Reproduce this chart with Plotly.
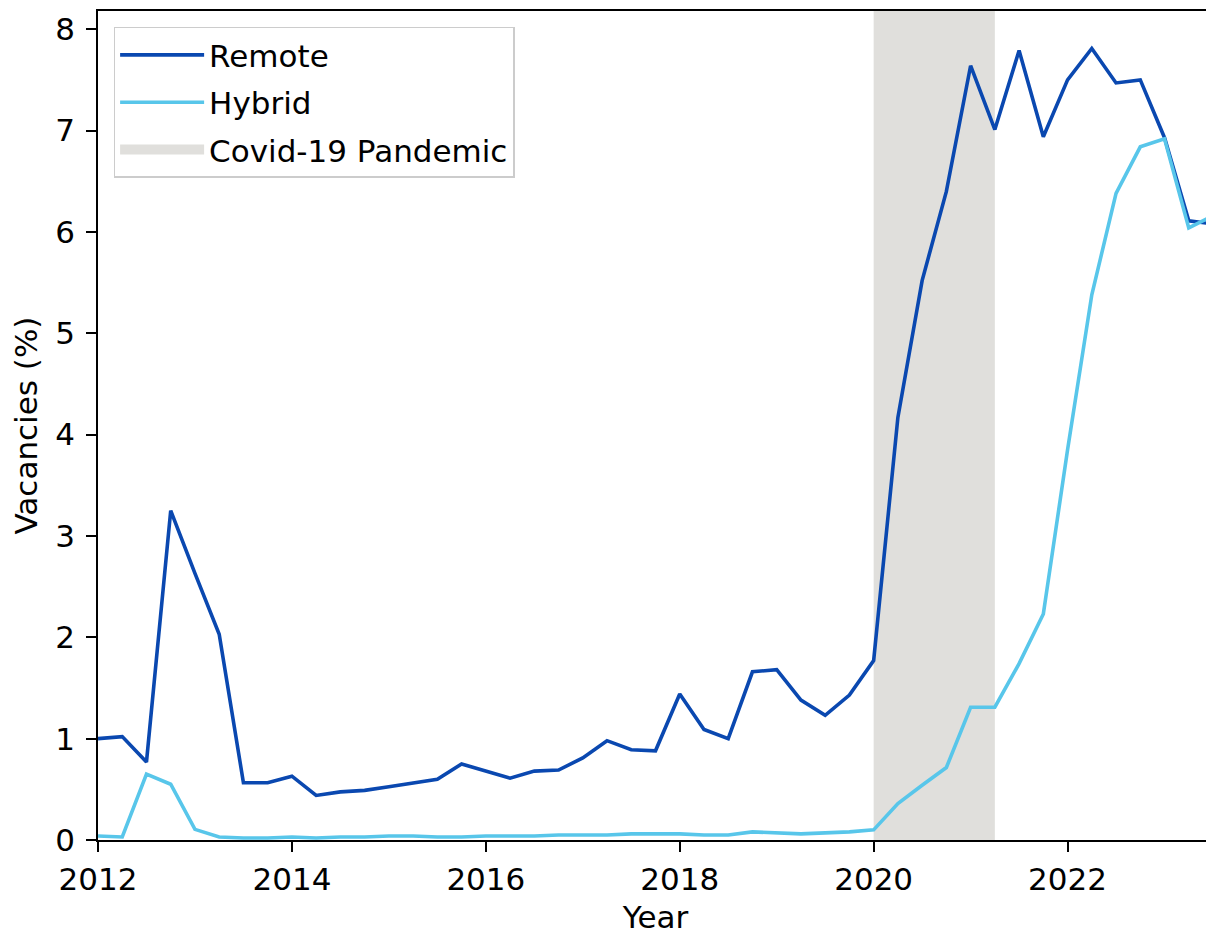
import plotly.graph_objects as go

# ---- data ----
quarters = [2012.0, 2012.25, 2012.5, 2012.75,
            2013.0, 2013.25, 2013.5, 2013.75,
            2014.0, 2014.25, 2014.5, 2014.75,
            2015.0, 2015.25, 2015.5, 2015.75,
            2016.0, 2016.25, 2016.5, 2016.75,
            2017.0, 2017.25, 2017.5, 2017.75,
            2018.0, 2018.25, 2018.5, 2018.75,
            2019.0, 2019.25, 2019.5, 2019.75,
            2020.0, 2020.25, 2020.5, 2020.75,
            2021.0, 2021.25, 2021.5, 2021.75,
            2022.0, 2022.25, 2022.5, 2022.75,
            2023.0, 2023.25, 2023.5]

remote = [1.00, 1.02, 0.77, 3.25,
          2.63, 2.03, 0.565, 0.565,
          0.63, 0.44, 0.475, 0.49,
          0.525, 0.56, 0.60, 0.75,
          0.68, 0.61, 0.68, 0.69,
          0.81, 0.98, 0.89, 0.88,
          1.44, 1.09, 1.00, 1.66,
          1.68, 1.38, 1.23, 1.43,
          1.77, 4.17, 5.52, 6.40,
          7.64, 7.01, 7.79, 6.94,
          7.50, 7.81, 7.47, 7.50,
          6.93, 6.11, 6.08]

hybrid = [0.04, 0.03, 0.65, 0.55,
          0.105, 0.03, 0.02, 0.02,
          0.03, 0.02, 0.03, 0.03,
          0.04, 0.04, 0.03, 0.03,
          0.04, 0.04, 0.04, 0.05,
          0.05, 0.05, 0.06, 0.06,
          0.06, 0.05, 0.05, 0.08,
          0.07, 0.06, 0.07, 0.08,
          0.10, 0.36, 0.54, 0.715,
          1.31, 1.31, 1.74, 2.23,
          3.85, 5.38, 6.38, 6.84,
          6.92, 6.04, 6.16]

pandemic_start = 2020.0
pandemic_end = 2021.25

x_ticks = [2012, 2014, 2016, 2018, 2020, 2022]
y_ticks = [0, 1, 2, 3, 4, 5, 6, 7, 8]

FONT = "DejaVu Sans"
FS = 31
GRAY = "#e0dfdc"

fig = go.Figure()

fig.add_vrect(x0=pandemic_start, x1=pandemic_end, fillcolor=GRAY,
              line_width=0, layer="below")

fig.add_trace(go.Scatter(x=quarters, y=remote, mode="lines", name="Remote",
                         legendgroup="a", legendrank=1,
                         line=dict(color="#0a48b0", width=3.6)))
fig.add_trace(go.Scatter(x=quarters, y=hybrid, mode="lines", name="Hybrid",
                         legendgroup="b", legendrank=2,
                         line=dict(color="#58c6ea", width=3.6)))
# legend entry for the shaded pandemic period
fig.add_trace(go.Scatter(x=[None], y=[None], mode="lines",
                         line=dict(color=GRAY, width=25), name="Covid-19 Pandemic",
                         legendgroup="c", legendrank=3))

axis_common = dict(showgrid=False, zeroline=False, showline=True,
                   linecolor="black", linewidth=1.5, mirror=True,
                   ticks="outside", ticklen=10, tickwidth=1.5, tickcolor="black",
                   automargin=False,
                   tickfont=dict(family=FONT, size=FS, color="black"))

fig.update_xaxes(range=[2012, 2023.5], tickvals=x_ticks, ticklabelstandoff=1,
                 title=dict(text="Year", font=dict(family=FONT, size=FS, color="black"),
                            standoff=10),
                 **axis_common)
fig.update_yaxes(range=[0, 8.18], tickvals=y_ticks, ticklabelstandoff=5,
                 title=dict(text="Vacancies (%)", font=dict(family=FONT, size=FS, color="black"),
                            standoff=13),
                 **axis_common)

# page body adds ~8px offset; compensate in figure size/margins
fig.update_layout(
    width=1206, height=929,
    margin=dict(l=90, r=1, t=3, b=97, autoexpand=False),
    plot_bgcolor="white", paper_bgcolor="white",
    font=dict(family=FONT, size=FS, color="black"),
    legend=dict(x=0.014, y=0.981, xanchor="left", yanchor="top",
                bgcolor="rgba(255,255,255,0.8)", bordercolor="#cccccc", borderwidth=1.5,
                font=dict(family=FONT, size=FS, color="black"),
                itemwidth=84, tracegroupgap=4),
)

fig.write_html("out.html")
